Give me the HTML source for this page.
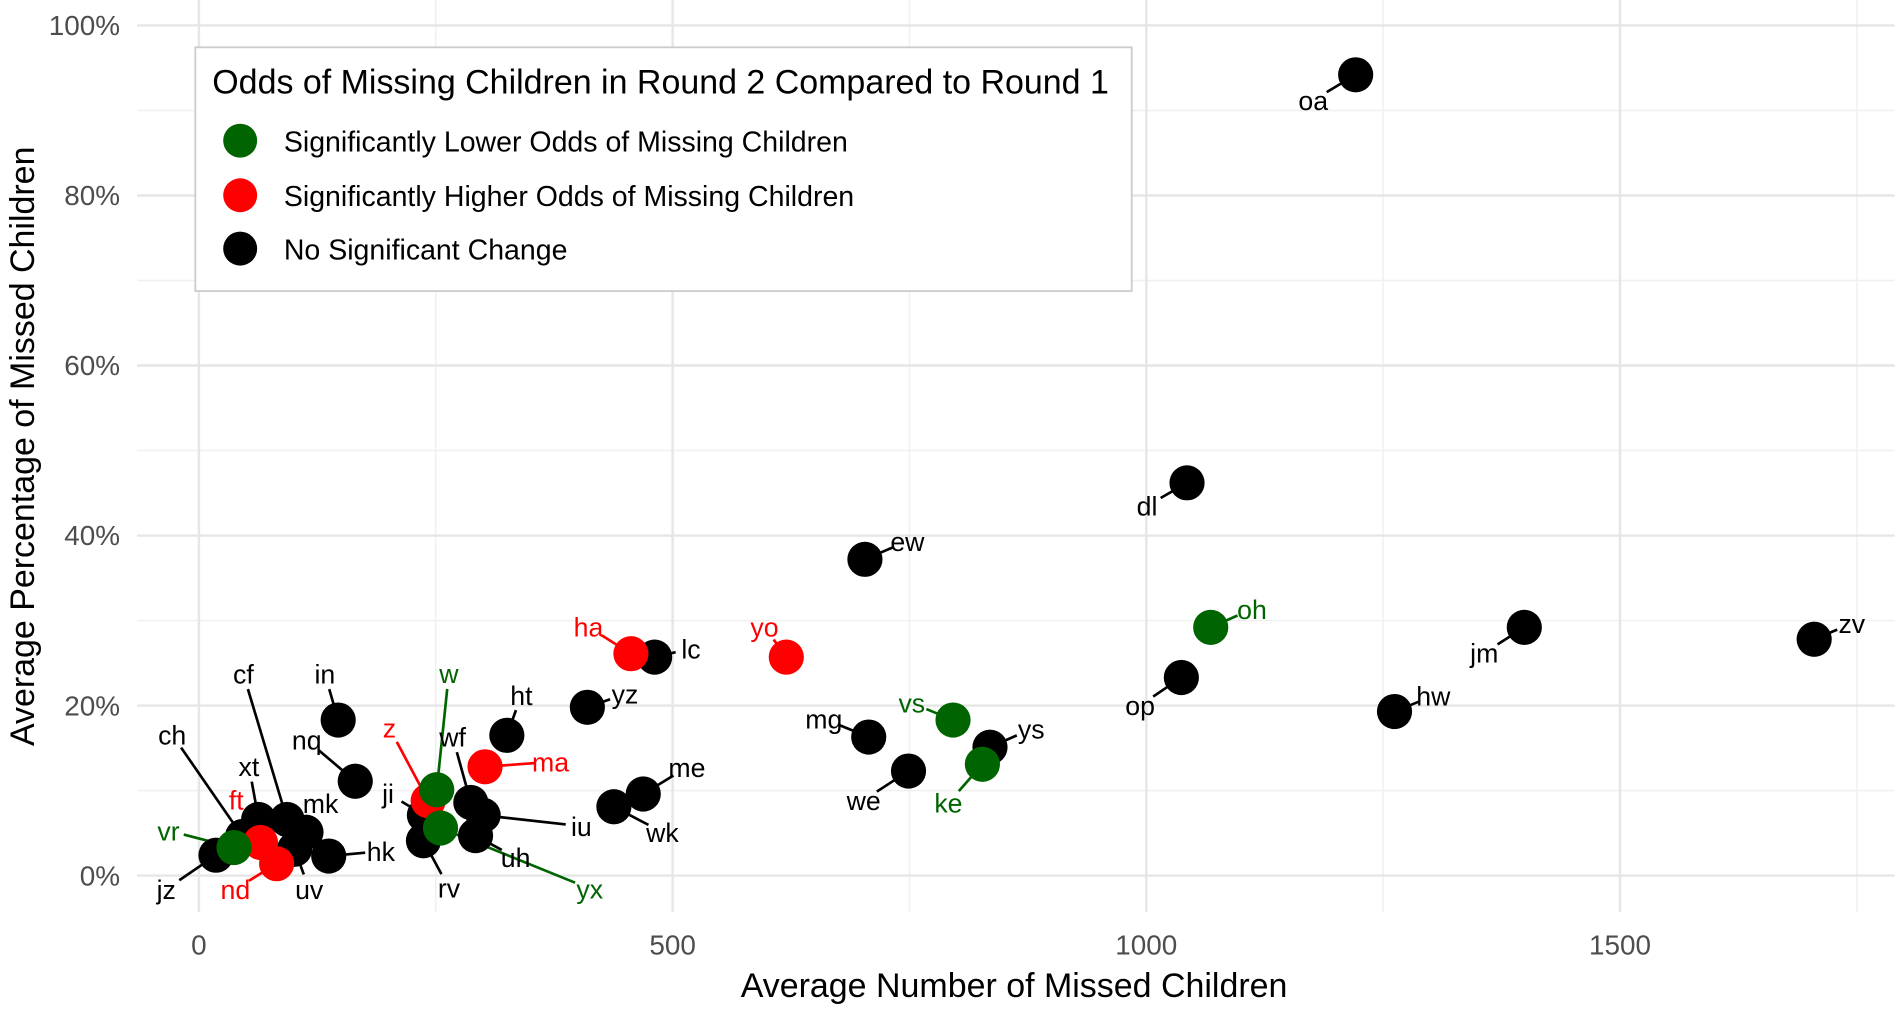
<!DOCTYPE html>
<html><head><meta charset="utf-8"><style>
html,body{margin:0;padding:0;background:#fff;}
svg{display:block;font-family:"Liberation Sans",Arial,sans-serif;}
</style></head><body>
<svg id="chart" width="1902" height="1009" viewBox="0 0 1568 832" preserveAspectRatio="none" xmlns="http://www.w3.org/2000/svg">
<g id="grid"></g>
<g id="axes"></g>
<g id="lines"></g>
<g id="points"></g>
<g id="labels"></g>
<text x="836" y="822" font-size="28" text-anchor="middle" fill="#000">Average Number of Missed Children</text>
<text transform="translate(28,368) rotate(-90)" font-size="28" text-anchor="middle" fill="#000">Average Percentage of Missed Children</text>
<g>
<rect x="161" y="39" width="772" height="201" fill="#fff" stroke="#cccccc" stroke-width="1.5"/>
<text x="175" y="77" font-size="28" fill="#000">Odds of Missing Children in Round 2 Compared to Round 1</text>
<g><circle cx="198" cy="116" r="14" fill="#006400"/><text x="234" y="125" font-size="23.5">Significantly Lower Odds of Missing Children</text></g>
<g><circle cx="198" cy="161" r="14" fill="#ff0000"/><text x="234" y="170" font-size="23.5">Significantly Higher Odds of Missing Children</text></g>
<g><circle cx="198" cy="205" r="14" fill="#000"/><text x="234" y="214" font-size="23.5">No Significant Change</text></g>
</g>
</svg>
<script>
const xTicks = [0, 500, 1000, 1500];
const xMinor = [250, 750, 1250, 1750];
const yTicks = [0, 20, 40, 60, 80, 100];
const yMinor = [10, 30, 50, 70, 90];
const names = ["oa","dl","ew","oh","jm","zv","op","hw","lc","ha","yo","yz","ht","in","vs","ys","mg","ke","we","me","wk","ma","nq","wf","iu","uh","rv","ji","z","w","yx","cf","xt","mk","ch","jz","uv","hk","ft","vr","nd"];
const xVals = [1221,1043,703,1068,1399,1705,1037,1262,481,456,620,410,325,147,796,835,707,827,749,469,438,302,165,287,300,292,237,238,242,251,255,93,63,113,46,18,101,137,65,37,82];
const yVals = [94.2,46.2,37.2,29.2,29.2,27.8,23.3,19.3,25.7,26.1,25.7,19.8,16.5,18.3,18.3,15.1,16.3,13.1,12.3,9.6,8.1,12.8,11.1,8.6,7.1,4.7,4.1,7.1,8.8,10.1,5.6,6.6,6.6,5.1,4.6,2.4,3.1,2.3,3.9,3.3,1.4];
const groups = ["n","n","n","g","n","n","n","n","n","r","r","n","n","n","g","n","n","g","n","n","n","r","n","n","n","n","n","n","r","g","g","n","n","n","n","n","n","n","r","g","r"];
// label offsets (layout, not data)
const offs = {oa:[-35,21],dl:[-33,19],ew:[35,-15],oh:[34,-15],jm:[-33,21],zv:[31,-13],op:[-34,23],hw:[32,-13],lc:[30,-7],ha:[-35,-22],yo:[-18,-25],yz:[31,-11],ht:[12,-33],in:[-11,-38],vs:[-34,-14],ys:[34,-15],mg:[-37,-15],ke:[-28,32],we:[-37,24],me:[36,-22],wk:[40,21],ma:[54,-4],nq:[-40,-34],wf:[-15,-54],iu:[81,9],uh:[33,18],rv:[21,39],ji:[-30,-18],z:[-32,-60],w:[10,-96],yx:[123,50],cf:[-36,-120],xt:[-8,-44],mk:[12,-24],ch:[-58,-84],jz:[-41,28],uv:[12,33],hk:[43,-4],ft:[-20,-35],vr:[-54,-14],nd:[-34,21]};
const colors = {n:"#000000", g:"#006400", r:"#ff0000"};
const NS = "http://www.w3.org/2000/svg";
function X(v){ return 164 + v * 0.781; }
function Y(p){ return 722 - p * 7.01; }
function mk(tag, attrs, parent){ const e = document.createElementNS(NS, tag); for (const k in attrs) e.setAttribute(k, attrs[k]); parent.appendChild(e); return e; }
const grid = document.getElementById('grid'), axes = document.getElementById('axes');
const L = 113, R = 1562, T = 0, B = 752;
yMinor.forEach(v => { const e = mk('line',{x1:L,x2:R,y1:Y(v),y2:Y(v),stroke:'#f0f0f0','stroke-width':1.2},grid);

 });
xMinor.forEach(v => { const e = mk('line',{x1:X(v),x2:X(v),y1:T,y2:B,stroke:'#f0f0f0','stroke-width':1.2},grid);

 });
yTicks.forEach(v => { const e = mk('line',{x1:L,x2:R,y1:Y(v),y2:Y(v),stroke:'#e6e6e6','stroke-width':2},grid);


const t = mk('text',{x:99,y:Y(v)+8,'font-size':23,'text-anchor':'end',fill:'#4d4d4d'},axes); t.textContent = v + '%';

 });
xTicks.forEach(v => { const e = mk('line',{x1:X(v),x2:X(v),y1:T,y2:B,stroke:'#e6e6e6','stroke-width':2},grid);


const t = mk('text',{x:X(v),y:787,'font-size':23,'text-anchor':'middle',fill:'#4d4d4d'},axes); t.textContent = v;

 });
const lines = document.getElementById('lines'), pts = document.getElementById('points'), labs = document.getElementById('labels');
const order = names.map((n,i)=>i).sort((a,b)=> (groups[a]==='n'?0:1) - (groups[b]==='n'?0:1));
names.forEach((n,i) => {
  const cx = X(xVals[i]), cy = Y(yVals[i]); const o = offs[n] || [20,-20]; const c = colors[groups[i]];
  const lx = cx + o[0], ly = cy + o[1]; const d = Math.hypot(o[0], o[1]);
  const ex = lx - o[0]/d*13, ey = ly - o[1]/d*13;
  const ln = mk('line',{x1:cx,y1:cy,x2:ex,y2:ey,stroke:c,'stroke-width':2.2},lines);
  
  
  const t = mk('text',{x:lx,y:ly+8,'font-size':22,'text-anchor':'middle',fill:c},labs); t.textContent = n;
  
  
});
order.forEach(i => {
  const p = mk('circle',{cx:X(xVals[i]),cy:Y(yVals[i]),r:14.5,fill:colors[groups[i]]},pts);
  
  
});
</script>
</body></html>
